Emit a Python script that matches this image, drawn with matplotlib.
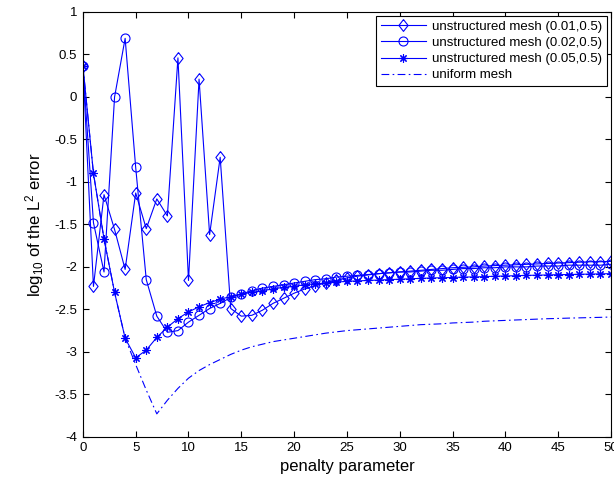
import matplotlib
matplotlib.use("Agg")
import matplotlib.pyplot as plt
import numpy as np

plt.rcParams["font.family"] = ["Liberation Sans", "DejaVu Sans"]
plt.rcParams["mathtext.fontset"] = "custom"
plt.rcParams["mathtext.rm"] = "Liberation Sans"
plt.rcParams["mathtext.it"] = "Liberation Sans:italic"

# penalty parameter 0..50
penalty = list(range(51))

# log10 of L2 error
mesh_001 = [0.37, -2.23, -1.15, -1.56, -2.03, -1.13, -1.55, -1.20, -1.40, 0.46,
            -2.16, 0.21, -1.62, -0.71, -2.49, -2.58, -2.57, -2.51, -2.43, -2.37,
            -2.31, -2.26, -2.22, -2.19, -2.16, -2.13, -2.11, -2.095, -2.08, -2.07,
            -2.06, -2.05, -2.04, -2.03, -2.02, -2.01, -2.005, -2.00, -1.99, -1.985,
            -1.98, -1.975, -1.97, -1.965, -1.96, -1.955, -1.95, -1.945, -1.94, -1.94,
            -1.935]
mesh_002 = [0.37, -1.48, -2.06, 0.0, 0.69, -0.83, -2.15, -2.58, -2.77, -2.75,
            -2.65, -2.57, -2.49, -2.43, -2.36, -2.32, -2.28, -2.25, -2.23, -2.21,
            -2.19, -2.17, -2.15, -2.14, -2.12, -2.11, -2.10, -2.09, -2.08, -2.07,
            -2.06, -2.06, -2.05, -2.04, -2.04, -2.03, -2.02, -2.02, -2.01, -2.01,
            -2.00, -2.00, -2.00, -1.99, -1.99, -1.99, -1.98, -1.98, -1.98, -1.98,
            -1.97]
mesh_005 = [0.37, -0.90, -1.67, -2.30, -2.84, -3.07, -2.98, -2.83, -2.71, -2.61,
            -2.53, -2.47, -2.42, -2.38, -2.35, -2.32, -2.30, -2.28, -2.26, -2.24,
            -2.23, -2.21, -2.20, -2.19, -2.18, -2.17, -2.165, -2.16, -2.155, -2.15,
            -2.145, -2.14, -2.135, -2.13, -2.128, -2.125, -2.12, -2.118, -2.115, -2.11,
            -2.107, -2.104, -2.10, -2.098, -2.095, -2.092, -2.09, -2.087, -2.085, -2.082,
            -2.08]
uniform = [0.37, -0.90, -1.67, -2.30, -2.84, -3.15, -3.45, -3.73, -3.57, -3.43,
           -3.31, -3.22, -3.15, -3.09, -3.03, -2.98, -2.94, -2.91, -2.88, -2.86,
           -2.84, -2.82, -2.80, -2.78, -2.765, -2.75, -2.74, -2.73, -2.72, -2.71,
           -2.70, -2.69, -2.68, -2.675, -2.67, -2.66, -2.655, -2.65, -2.64, -2.635,
           -2.63, -2.625, -2.62, -2.615, -2.61, -2.607, -2.603, -2.60, -2.597, -2.594,
           -2.59]

labels = ["unstructured mesh (0.01,0.5)", "unstructured mesh (0.02,0.5)",
          "unstructured mesh (0.05,0.5)", "uniform mesh"]

blue = "#0000ff"
# matlab-style diamond, a bit narrower than tall
diamond = [(0, 1), (0.78, 0), (0, -1), (-0.78, 0), (0, 1)]

fig = plt.figure(figsize=(6.14, 4.8), dpi=100)
ax = fig.add_axes([0.135, 0.09, 0.86, 0.885])

ax.plot(penalty, mesh_001, color=blue, lw=0.8, marker=diamond, ms=8.5,
        mfc="none", mec=blue, mew=0.8, label=labels[0])
ax.plot(penalty, mesh_002, color=blue, lw=0.8, marker="o", ms=6.5,
        mfc="none", mec=blue, mew=0.8, label=labels[1])
ax.plot(penalty, mesh_005, color=blue, lw=0.8, marker=(8, 2, 0), ms=6,
        mec=blue, mew=0.8, label=labels[2])
ax.plot(penalty, uniform, color=blue, lw=0.8, ls=(0, (7, 3, 1.5, 3)),
        label=labels[3])

ax.set_xlim(0, 50)
ax.set_ylim(-4, 1)
ax.set_xticks(np.arange(0, 51, 5))
ax.set_yticks(np.arange(-4, 1.01, 0.5))
ax.set_yticklabels(["-4", "-3.5", "-3", "-2.5", "-2", "-1.5", "-1", "-0.5", "0", "0.5", "1"])
ax.tick_params(direction="in", top=True, right=True, labelsize=9.5, length=4, width=0.8, pad=4)
for s in ax.spines.values():
    s.set_linewidth(0.8)

ax.set_xlabel("penalty parameter", fontsize=12, labelpad=3)
ax.set_ylabel(r"log$_{10}$ of the L$^2$ error", fontsize=12, labelpad=6)

leg = ax.legend(loc="upper right", fontsize=9.5, handlelength=3.4, frameon=True,
                fancybox=False, borderaxespad=0.3, borderpad=0.35,
                labelspacing=0.3, handletextpad=0.5, framealpha=1)
leg.get_frame().set_edgecolor("black")
leg.get_frame().set_linewidth(0.8)

plt.savefig("out.png", dpi=100)
